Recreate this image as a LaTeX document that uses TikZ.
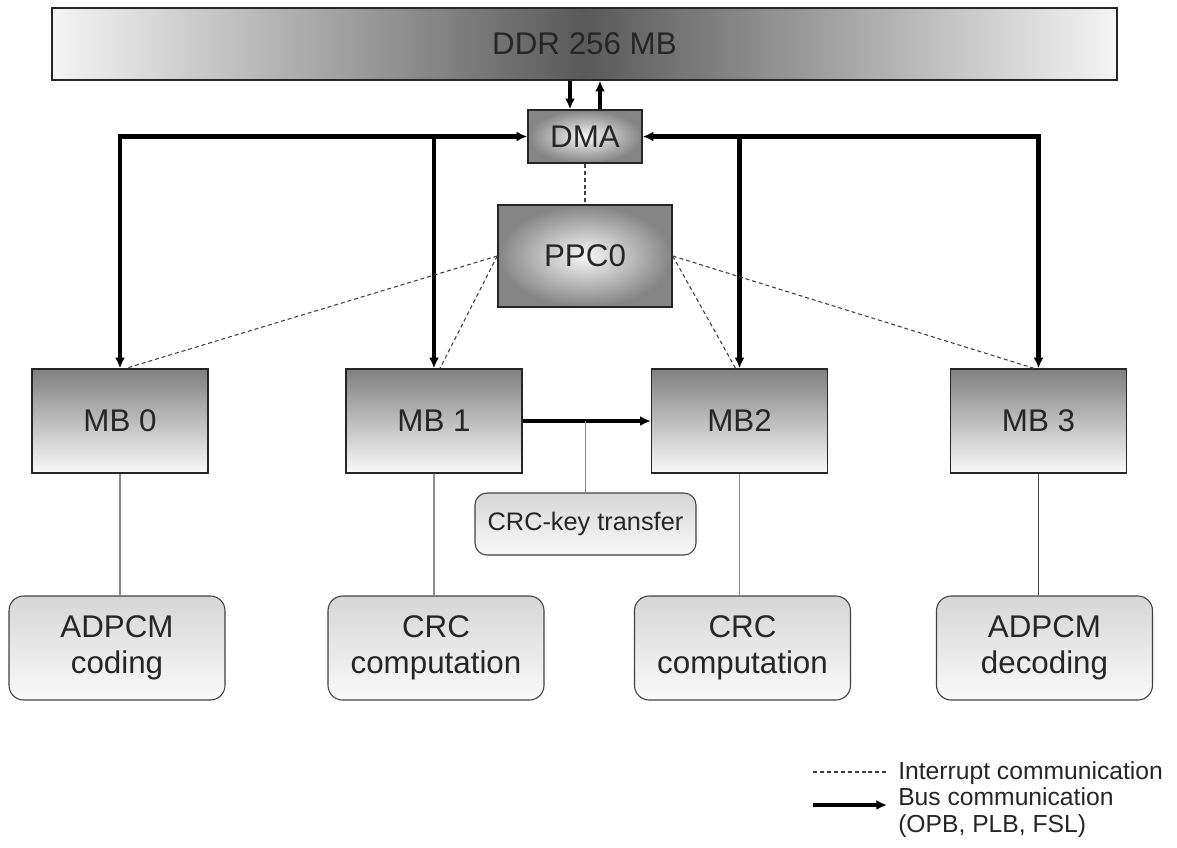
\documentclass[tikz,border=0pt]{standalone}
\usepackage{fontspec}
\setmainfont{Liberation Sans}
\usetikzlibrary{arrows.meta,calc}
\begin{document}
\begin{tikzpicture}[x=0.75pt,y=-0.75pt,
  big/.style={font=\fontsize{23.5}{27}\selectfont, text=black!85, align=center},
  ddrbox/.style={big, draw=black!85, line width=1.1pt, minimum width=798.75pt, minimum height=54pt,
    left color=black!4, right color=black!4, middle color=black!65},
  ctrbox/.style={big, draw=black!85, line width=1.1pt, inner color=black!3, outer color=black!48},
  mbbox/.style={big, draw=black!85, line width=1.1pt, minimum width=132pt, minimum height=78pt,
    top color=black!50, bottom color=black!2},
  taskbox/.style={big, draw=black!75, line width=0.8pt, rounded corners=11pt, minimum width=162pt, minimum height=78pt,
    top color=black!16, bottom color=black!2},
  keybox/.style={font=\fontsize{19}{22}\selectfont, text=black!85, draw=black!75, line width=0.8pt, rounded corners=9pt,
    minimum width=165.75pt, minimum height=46.5pt, top color=black!16, bottom color=black!2},
  bus/.style={line width=3.3pt, black},
  tip/.style={-{Latex[length=8pt,width=7.5pt]}},
  irq/.style={black!75, line width=0.8pt, dash pattern=on 3pt off 2.2pt},
  link/.style={black!45, line width=1.1pt},
  legtext/.style={font=\fontsize{18.5}{20}\selectfont, text=black!85, anchor=base west, inner sep=0pt}
]
\useasboundingbox (0,0) rectangle (1177,847);

% nodes
\node[ddrbox] (ddr) at (584.5,44) {DDR 256 MB};
\node[ctrbox, minimum width=85.5pt, minimum height=39.75pt] (dma) at (585,136.5) {DMA};
\node[ctrbox, minimum width=130.5pt, minimum height=76.5pt] (ppc) at (585,256) {PPC0};

\node[mbbox] (mb0) at (120,421) {MB 0};
\node[mbbox] (mb1) at (434,421) {MB 1};
\node[mbbox] (mb2) at (739.5,421) {MB2};
\node[mbbox] (mb3) at (1038.5,421) {MB 3};

\node[keybox] (key) at (585.5,524) {CRC-key transfer};

\node[taskbox] (t0) at (117,648) {ADPCM\\coding};
\node[taskbox] (t1) at (436,648) {CRC\\computation};
\node[taskbox] (t2) at (742.5,648) {CRC\\computation};
\node[taskbox] (t3) at (1044.5,648) {ADPCM\\decoding};

% DDR <-> DMA
\coordinate (dl) at ($(dma.north)+(-15,0)$);
\coordinate (dr) at ($(dma.north)+(15,0)$);
\draw[bus,tip] (dl |- ddr.south) -- (dl);
\draw[bus,tip] (dr) -- (dr |- ddr.south);

% bus lines DMA <-> MBs
\draw[bus,{Latex[length=8pt,width=7.5pt]}-{Latex[length=8pt,width=7.5pt]}, line join=miter]
  (mb0.north) -- (mb0.north |- dma.west) -- (dma.west);
\draw[bus,tip] (mb1.north |- dma.west) -- (mb1.north);
\draw[bus,{Latex[length=8pt,width=7.5pt]}-{Latex[length=8pt,width=7.5pt]}, line join=miter]
  (mb3.north) -- (mb3.north |- dma.east) -- (dma.east);
\draw[bus,tip] (mb2.north |- dma.east) -- (mb2.north);

% MB1 -> MB2
\draw[bus,tip] (mb1.east) -- (mb2.west);

% interrupts
\draw[irq] (dma.south) -- (ppc.north);
\draw[irq] (ppc.west) -- ([xshift=4.5pt]mb0.north);
\draw[irq] (ppc.west) -- ([xshift=4.5pt]mb1.north);
\draw[irq] (ppc.east) -- ([xshift=-3pt]mb2.north);
\draw[irq] (ppc.east) -- ([xshift=-3.5pt]mb3.north);

% links to tasks
\draw[link] (key.north) -- (key.north |- mb1.east);
\draw[link] (mb0.south) -- (mb0.south |- t0.north);
\draw[link] (mb1.south) -- (mb1.south |- t1.north);
\draw[link] (mb2.south) -- (mb2.south |- t2.north);
\draw[link, black!75] (mb3.south) -- (mb3.south |- t3.north);

% legend
\coordinate (la) at (813,772);
\coordinate (lb) at (887,772);
\coordinate (lc) at (813,805);
\coordinate (ld) at (887,805);
\draw[irq] (la) -- (lb);
\draw[bus,line width=2.8pt,tip] (lc) -- (ld);
\node[legtext] (lt1) at (898,779) {Interrupt communication};
\node[legtext] (lt2) at (898,805) {Bus communication};
\node[legtext] (lt3) at (898,832) {(OPB, PLB, FSL)};
\end{tikzpicture}
\end{document}
